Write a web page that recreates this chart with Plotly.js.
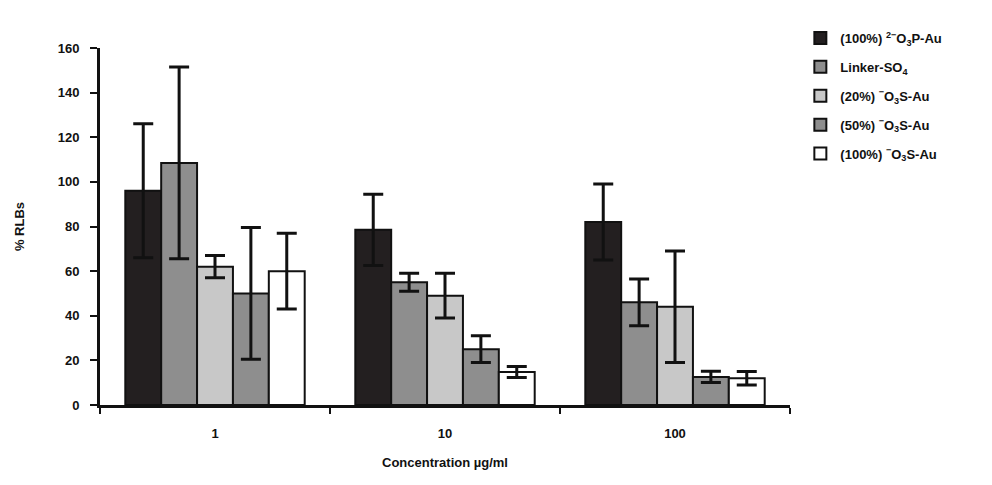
<!DOCTYPE html>
<html><head><meta charset="utf-8">
<script src="https://cdn.plot.ly/plotly-3.0.1.min.js"></script>
<style>html,body{margin:0;padding:0;background:#fff;}#chart{width:992px;height:485px;}</style>
</head><body><div id="chart"></div>
<script>
const categories = ["1", "10", "100"];
const seriesNames = [
  "(100%) <sup>2−</sup>O<sub>3</sub>P-Au",
  "Linker-SO<sub>4</sub>",
  "(20%) <sup>−</sup>O<sub>3</sub>S-Au",
  "(50%) <sup>−</sup>O<sub>3</sub>S-Au",
  "(100%) <sup>−</sup>O<sub>3</sub>S-Au"
];
const p100P = [96, 78.5, 82];
const linker = [108.5, 55, 46];
const s20 = [62, 49, 44];
const s50 = [50, 25, 12.6];
const s100 = [60, 14.8, 12];
const errP100P = [30, 16, 17];
const errLinker = [43, 4, 10.5];
const errS20 = [5, 10, 25];
const errS50 = [29.5, 6, 2.5];
const errS100 = [17, 2.5, 3];
const colors = ["#231f20", "#8e8e8e", "#c8c8c8", "#8e8e8e", "#ffffff"];

const values = [p100P, linker, s20, s50, s100];
const errs = [errP100P, errLinker, errS20, errS50, errS100];
const font = {family: "Liberation Sans, Arial, sans-serif", size: 13, color: "#111", weight: "bold"};

const traces = values.map((v, i) => ({
  type: "bar",
  name: seriesNames[i],
  legendgroup: "g" + i,
  x: categories,
  y: v,
  marker: {color: colors[i], line: {color: "#111", width: 2}},
  error_y: {type: "data", array: errs[i], visible: true, color: "#111", thickness: 3, width: 10}
}));

const layout = {
  width: 992, height: 485,
  margin: {l: 100, r: 202, t: 48, b: 80},
  paper_bgcolor: "#fff", plot_bgcolor: "#fff",
  barmode: "group", bargap: 0.22, bargroupgap: 0,
  font: font,
  showlegend: true,
  legend: {x: 1.015, y: 1.07, xanchor: "left", yanchor: "top", font: {family: font.family, size: 13, color: "#111", weight: "bold"}, tracegroupgap: 9, itemwidth: 30, bgcolor: "rgba(0,0,0,0)"},
  xaxis: {
    type: "category", showline: true, linecolor: "#111", linewidth: 3,
    ticks: "outside", tickson: "boundaries", ticklen: 6, tickwidth: 2, tickcolor: "#111",
    ticklabelstandoff: 14,
    tickfont: font, showgrid: false, zeroline: false,
    title: {text: "Concentration µg/ml", font: font, standoff: 19}
  },
  yaxis: {
    range: [0, 160], dtick: 20, showline: true, linecolor: "#111", linewidth: 3,
    ticks: "outside", ticklen: 7, tickwidth: 2, tickcolor: "#111",
    ticklabelstandoff: 8,
    tickfont: font, showgrid: false, zeroline: false,
    title: {text: "% RLBs", font: font, standoff: 31}
  }
};
Plotly.newPlot("chart", traces, layout, {displayModeBar: false, staticPlot: true});
</script></body></html>
